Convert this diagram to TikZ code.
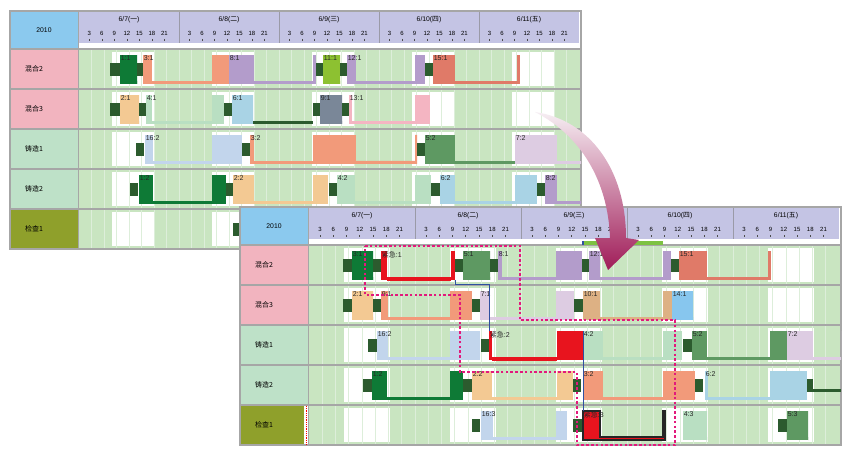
\documentclass[tikz,border=0pt]{standalone}
\usepackage{fontspec}
\setmainfont{Liberation Sans}
\newfontfamily\cjk{Noto Sans CJK SC}
\definecolor{hdr}{HTML}{C4C4E4}
\definecolor{yr}{HTML}{8BC9EE}
\definecolor{mix}{HTML}{F2B4BF}
\definecolor{cast}{HTML}{BEE1C8}
\definecolor{chk}{HTML}{8FA02B}
\definecolor{bg}{HTML}{C9E5C1}
\definecolor{gridc}{HTML}{DDEEDA}
\definecolor{sepc}{HTML}{A6A6A6}
\definecolor{prepc}{HTML}{2C5B2E}
\definecolor{dkg}{HTML}{0E7A36}
\definecolor{sal}{HTML}{F29A7A}
\definecolor{pur}{HTML}{B39CCB}
\definecolor{lime}{HTML}{8DC131}
\definecolor{redb}{HTML}{E07A68}
\definecolor{tan}{HTML}{F3C993}
\definecolor{lgr}{HTML}{B9DFC2}
\definecolor{lblu}{HTML}{A9D3E5}
\definecolor{slate}{HTML}{7A8798}
\definecolor{pink}{HTML}{F4B5C2}
\definecolor{steel}{HTML}{C2D5EC}
\definecolor{mgr}{HTML}{5E9962}
\definecolor{lav}{HTML}{DDCCE2}
\definecolor{brown}{HTML}{DDB184}
\definecolor{blu}{HTML}{87C6EE}
\definecolor{urg}{HTML}{E8141E}
\definecolor{hot}{HTML}{E2197C}
\definecolor{lnkc}{HTML}{3050A0}
\definecolor{progc}{HTML}{7DC242}
\definecolor{arrtop}{HTML}{F6EEF3}
\definecolor{arrmid}{HTML}{C77A9C}
\definecolor{arrbot}{HTML}{A01C58}

% one chart: x0, y0, day width, prefix
\newcommand{\gchart}[4]{%
  \fill[white] (#1,#2) rectangle ({#1+71+5*#3},{#2+238});
  \fill[yr] (#1,#2) rectangle ({#1+68},{#2+37});
  \node[daylbl] (#4year) at ({#1+34},{#2+19}) {2010};
  \fill[hdr] ({#1+69},#2) rectangle ({#1+69+5*#3},{#2+32});
  \fill[bg] ({#1+69},{#2+38}) rectangle ({#1+71+5*#3},{#2+238});
  \foreach \d/\w [count=\i from 0] in {7/一,8/二,9/三,10/四,11/五} {
    \node[daylbl] (#4day\i) at ({#1+69+(\i+0.5)*#3},{#2+9}) {6/\d({\cjk\w})};
    \foreach \h in {3,6,...,21} {
      \node[hourlbl] (#4h\i-\h) at ({#1+69+\i*#3+(\h-0.5)*#3/24},{#2+22}) {\h};
      \draw[black!70,line width=0.6pt] ({#1+69+\i*#3+(\h-0.5)*#3/24},{#2+28}) -- ++(0,2);
    }
    \foreach \r in {0,...,4}
      \fill[white] ({#1+69+\i*#3+8*#3/24},{#2+41+40*\r}) rectangle ({#1+69+\i*#3+18.3*#3/24},{#2+75+40*\r});
  }
  \foreach \i in {1,...,4}
    \draw[draw=white!40!hdr!70!black,line width=1pt] ({#1+69+\i*#3},#2) -- ++(0,32);
  \foreach \k in {1,...,39}
    \draw[gridln] ({#1+69+\k*#3/8},{#2+38}) -- ++(0,200);
  \foreach \lbl/\col [count=\r from 0] in {混合2/mix,混合3/mix,铸造1/cast,铸造2/cast,检查1/chk} {
    \fill[\col] (#1,{#2+38+40*\r}) rectangle ({#1+68},{#2+78+40*\r});
    \node[rowlbl] (#4row\r) at ({#1+15},{#2+58+40*\r}) {\cjk\lbl};
  }
  \foreach \r in {0,...,5}
    \draw[sep] (#1,{#2+38+40*\r}) -- ({#1+71+5*#3},{#2+38+40*\r});
  \draw[sep] ({#1+68.5},#2) -- ({#1+68.5},{#2+238});
  \draw[sep] (#1,#2) rectangle ({#1+71+5*#3},{#2+238});
}
% task: row top, x1, x2, x3, x4, colour, label, name
\newcommand{\gtask}[8]{%
  \fill[#6] (#2,{#1+6}) rectangle (#3,{#1+35});
  \fill[#6] (#3,{#1+32}) rectangle (#4,{#1+35});
  \fill[#6] (#4,{#1+6}) rectangle (#5,{#1+35});
  \node[tasklbl] (#8) at (#2,{#1+6}) {#7};
}
% set-up block: row top, x1, x2
\newcommand{\gprep}[3]{\fill[prepc] (#2,{#1+14}) rectangle (#3,{#1+27});}

\begin{document}
\begin{tikzpicture}[x=1pt,y=-1pt,
  daylbl/.style={font=\fontsize{6.8}{7}\selectfont,inner sep=0pt},
  hourlbl/.style={font=\fontsize{6}{6}\selectfont,inner sep=0pt},
  rowlbl/.style={anchor=west,font=\fontsize{7}{8}\selectfont,inner sep=0pt},
  tasklbl/.style={anchor=north west,font=\fontsize{7}{7}\selectfont,inner sep=0.6pt,text=black!85},
  sep/.style={draw=sepc,line width=1.2pt},
  gridln/.style={draw=gridc,line width=0.7pt},
  hotline/.style={draw=hot,line width=2.8pt,dash pattern=on 2.6pt off 2.2pt},
  lnk/.style={draw=lnkc,line width=0.7pt}]
\useasboundingbox (0,0) rectangle (851,449);

% back chart
\gchart{10}{11}{100}{a}
\gprep{49}{110}{120}
\gtask{49}{120}{137}{137}{137}{dkg}{1:1}{a11}
\gprep{49}{137}{143}
\gtask{49}{143}{152}{212}{229}{sal}{3:1}{a31}
\gtask{49}{229}{254}{313}{316}{pur}{8:1}{a81}
\gprep{49}{316}{323}
\gtask{49}{323}{340}{340}{340}{lime}{11:1}{a111}
\gprep{49}{340}{347}
\gtask{49}{347}{356}{415}{425}{pur}{12:1}{a121}
\gprep{49}{425}{433}
\gtask{49}{433}{455}{517}{520}{redb}{15:1}{a151}

\gprep{89}{110}{120}
\gtask{89}{120}{139}{139}{139}{tan}{2:1}{a21}
\gprep{89}{139}{146}
\gtask{89}{146}{152}{212}{224}{lgr}{4:1}{a41}
\gprep{89}{224}{232}
\gtask{89}{232}{253}{253}{253}{lblu}{6:1}{a61}
\fill[prepc] (253,121) rectangle (313,124);
\gprep{89}{313}{320}
\gtask{89}{320}{342}{342}{342}{slate}{9:1}{a91}
\gprep{89}{342}{349}
\gtask{89}{349}{352}{415}{430}{pink}{13:1}{a131}

\gprep{129}{136}{144}
\gtask{129}{145}{153}{212}{242}{steel}{16:2}{a162}
\gprep{129}{242}{250}
\gtask{129}{250}{254}{313}{356}{sal}{3:2}{a32}
\fill[sal] (356,161) rectangle (415,164) (415,135) rectangle (417,164);
\gprep{129}{417}{425}
\gtask{129}{425}{455}{515}{515}{mgr}{5:2}{a52}
\gtask{129}{515}{557}{581}{581}{lav}{7:2}{a72}

\gprep{169}{130}{138}
\gtask{169}{139}{153}{212}{226}{dkg}{1:2}{a12}
\gprep{169}{226}{233}
\gtask{169}{233}{254}{313}{328}{tan}{2:2}{a22}
\gprep{169}{329}{337}
\gtask{169}{337}{355}{415}{431}{lgr}{4:2}{a42}
\gprep{169}{431}{440}
\gtask{169}{440}{455}{515}{537}{lblu}{6:2}{a62}
\gprep{169}{537}{545}
\gtask{169}{545}{557}{581}{581}{pur}{8:2}{a82}

\gprep{209}{233}{241}

% front chart
\gchart{240}{207}{106}{b}
\fill[white] (304,405.6) rectangle (308.4,444.4);
\draw[red,line width=1pt,dash pattern=on 1pt off 0.8pt] (306,406) -- (306,444);
\fill[progc] (583,241) rectangle (663,245);
\fill[lnkc] (582,240.5) rectangle (584,245);

\gprep{245}{343}{352}
\gtask{245}{352}{373}{373}{373}{dkg}{3:1}{b31}
\gprep{245}{373}{381}
\gtask{245}{381}{387}{451}{455}{urg}{{\cjk 紧急}:1}{u1}
\fill[urg] (387,278) rectangle (451,281);
\gprep{245}{455}{463}
\gtask{245}{463}{490}{490}{490}{mgr}{5:1}{b51}
\gprep{245}{490}{498}
\gtask{245}{498}{502}{556}{582}{pur}{8:1}{b81}
\gprep{245}{582}{589}
\gtask{245}{589}{600}{663}{671}{pur}{12:1}{b121}
\gprep{245}{671}{679}
\gtask{245}{679}{707}{768}{771}{redb}{15:1}{b151}

\gprep{285}{343}{352}
\gtask{285}{352}{373}{373}{373}{tan}{2:1}{b21}
\gprep{285}{373}{381}
\gtask{285}{381}{388}{450}{472}{sal}{9:1}{b91}
\gprep{285}{472}{480}
\gtask{285}{480}{490}{556}{574}{lav}{7:1}{b71}
\gprep{285}{574}{583}
\gtask{285}{583}{600}{663}{672}{brown}{10:1}{b101}
\gtask{285}{672}{693}{693}{693}{blu}{14:1}{b141}

\gprep{325}{368}{377}
\gtask{325}{377}{388}{450}{480}{steel}{16:2}{b162}
\gprep{325}{481}{489}
\gtask{325}{489}{492}{557}{583}{urg}{{\cjk 紧急}:2}{u2}
\fill[urg] (492,358) rectangle (557,361);
\gtask{325}{583}{603}{663}{682}{lgr}{4:2}{b42}
\gprep{325}{683}{692}
\gtask{325}{692}{707}{770}{787}{mgr}{5:2}{b52}
\gtask{325}{787}{813}{841}{841}{lav}{7:2}{b72}

\gprep{365}{363}{372}
\gtask{365}{372}{387}{450}{463}{dkg}{1:2}{b12}
\gprep{365}{463}{472}
\gtask{365}{472}{492}{557}{573}{tan}{2:2}{b22}
\gprep{365}{573}{581}
\gtask{365}{583}{603}{663}{695}{sal}{3:2}{b32}
\gprep{365}{695}{703}
\gtask{365}{705}{708}{770}{807}{lblu}{6:2}{b62}
\gprep{365}{807}{813}
\fill[prepc] (813,389) rectangle (841,392);

\gprep{405}{472}{480}
\gtask{405}{481}{493}{556}{567}{steel}{16:3}{b163}
\gprep{405}{573}{582}
\gtask{405}{583}{600}{663}{665}{urg}{{\cjk 紧急}:3}{u3}
\draw[black!85,line width=1.2pt] (583,411) -- (600,411) -- (600,437) -- (663,437) -- (663,411) -- (665,411) -- (665,440) -- (583,440) -- cycle;
\gtask{405}{683}{707}{707}{707}{lgr}{4:3}{b43}
\gprep{405}{778}{787}
\gtask{405}{787}{808}{808}{808}{mgr}{5:3}{b53}

% links between the rush orders
\coordinate (u1end) at (455,280);
\coordinate (u2end) at (583,331);
\draw[lnk] (u1end) -- ++(0,4) -| (u2.north west);
\draw[lnk] (u2end) -- (u3.north west);

% changed area
\draw[hotline] (365,246) -- (520,246) -- (520,320) -- (675,320) -- (675,445) -- (577,445)
  -- (577,372) -- (460,372) -- (460,295) -- (365,295) -- cycle;

% arrow from old to new plan
\shade[top color=arrtop,middle color=arrmid,bottom color=arrbot]
  (535,112) .. controls (590,120) and (626,170) .. (626,238) -- (639,240) -- (608,270)
  -- (595,238) -- (610,238) .. controls (608,180) and (580,135) .. (535,112) -- cycle;
\end{tikzpicture}
\end{document}
